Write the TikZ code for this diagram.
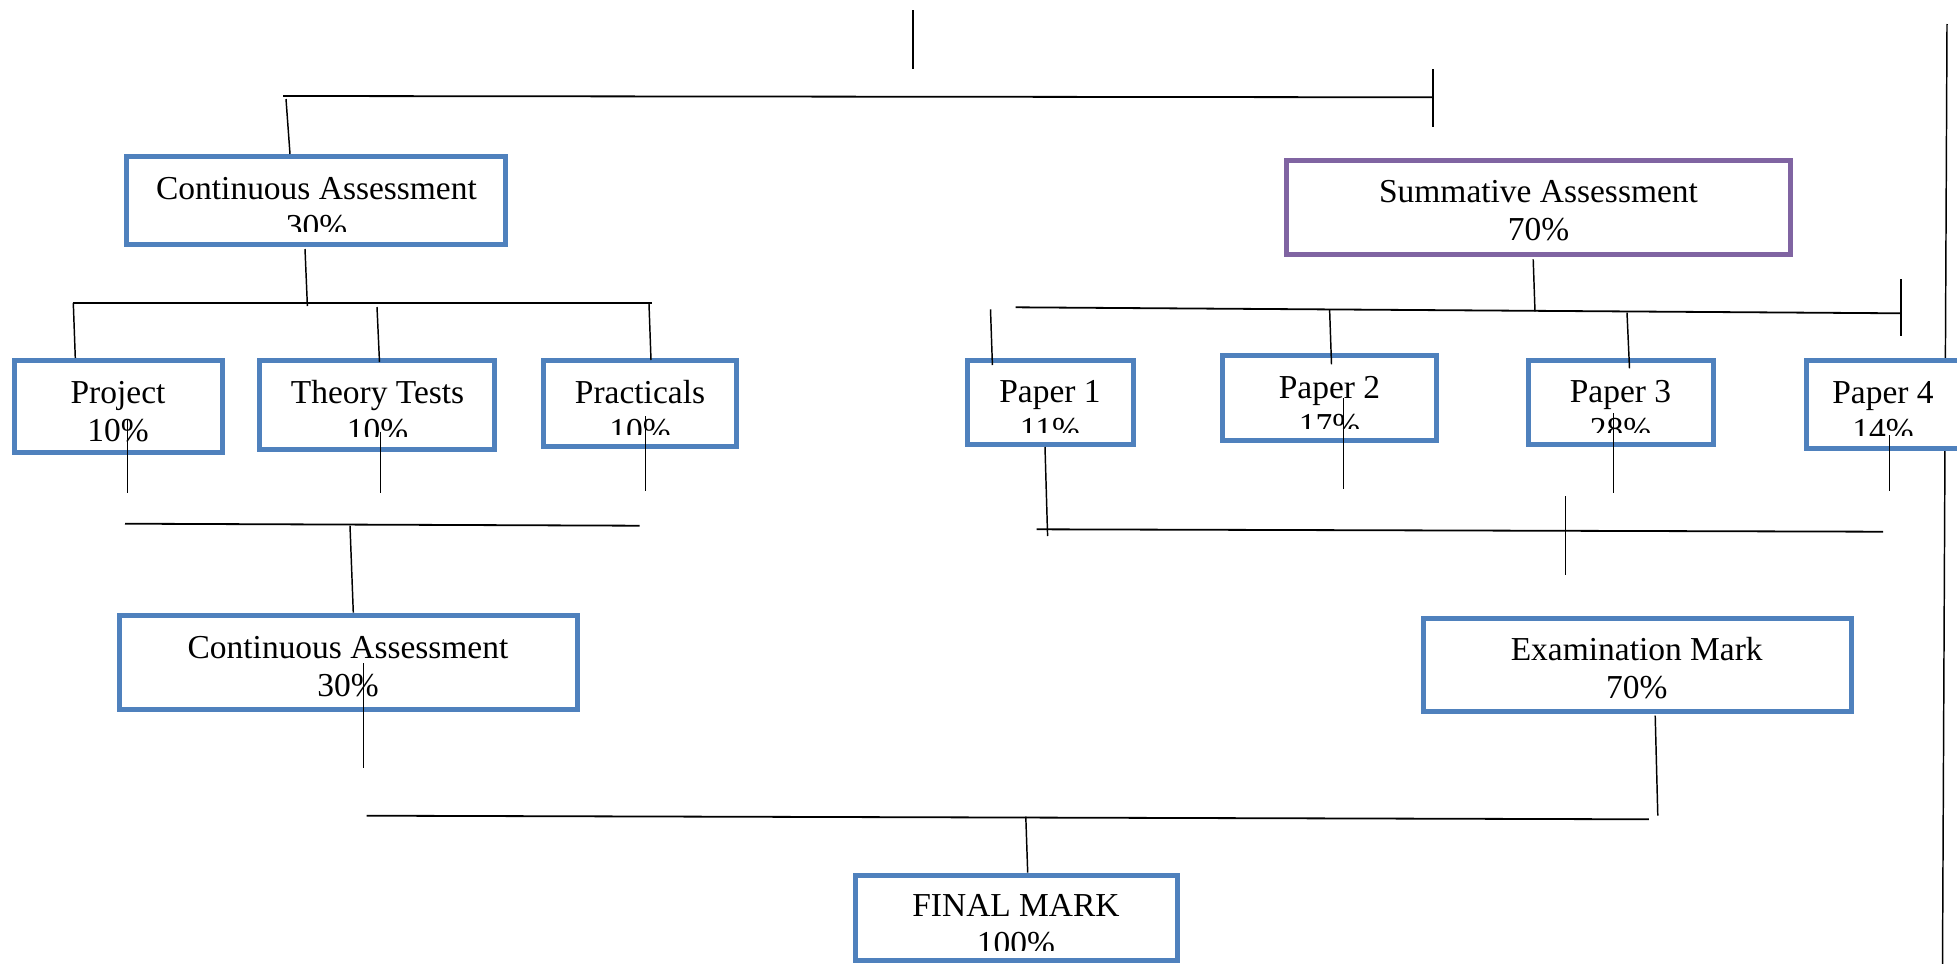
\documentclass[tikz,border=0pt]{standalone}
\usepackage{fontspec}
\setmainfont{Liberation Serif}
\definecolor{boxblue}{RGB}{79,129,189}
\definecolor{boxpurple}{RGB}{128,100,162}
\tikzset{
 obox/.style={rectangle, fill=white, line width=3.75pt, inner sep=0pt, outer sep=0pt},
 lbl/.style={anchor=base, inner sep=0pt, font=\fontsize{25.1pt}{28pt}\selectfont},
 vline/.style={line width=1.1pt, black},
 hline/.style={line width=1.35pt, black},
}
% name, x1, y1, x2, y2, colour (outer edges, in px)
\newcommand{\obx}[6]{\node[obox,draw=#6,minimum width={(#4-#2-5)*0.75pt},minimum height={(#5-#3-5)*0.75pt}] (#1) at ({(#2+#4)/2},{(#3+#5)/2}) {};}
% name, centre x, first baseline, line 1, line 2, clip y
\newcommand{\lbls}[6]{\begin{scope}\clip (0,0) rectangle (1957,#6);
\node[lbl] (#1a) at (#2,#3) {#4};
\node[lbl] (#1b) at (#2,{#3+38}) {#5};\end{scope}}
\begin{document}
\begin{tikzpicture}[x=0.75pt,y=-0.75pt]
\useasboundingbox (0,0) rectangle (1957,964);
\fill[white] (0,0) rectangle (1957,964);
% long right line (behind the boxes)
\draw[vline] (1947,24) -- (1942.5,964);
% boxes
\obx{ca1}{124}{154}{508}{247}{boxblue}
\obx{sa}{1284}{158}{1793}{257}{boxpurple}
\obx{proj}{11.5}{358}{224.5}{455}{boxblue}
\obx{theo}{257}{358}{497}{452}{boxblue}
\obx{prac}{541}{358}{738.5}{449}{boxblue}
\obx{pa1}{965}{358}{1135.6}{447}{boxblue}
\obx{pa2}{1220}{353}{1439.4}{443}{boxblue}
\obx{pa3}{1525.5}{358}{1715.6}{447}{boxblue}
\obx{pa4}{1804}{358}{1996}{451}{boxblue}
\obx{ca2}{116.7}{613.3}{579.7}{711.7}{boxblue}
\obx{exam}{1421}{616}{1853.7}{714}{boxblue}
\obx{fin}{852.7}{872.5}{1179.5}{963}{boxblue}
% labels
\lbls{ca1t}{316.5}{199.3}{Continuous Assessment}{30\%}{231.7}
\lbls{sat}{1538.5}{202.7}{Summative Assessment}{70\%}{964}
\lbls{projt}{118}{403.3}{Project}{10\%}{964}
\lbls{theot}{377.5}{403}{Theory Tests}{10\%}{436}
\lbls{pract}{640}{403}{Practicals}{10\%}{434}
\lbls{pa1t}{1050}{402.7}{Paper 1}{11\%}{432}
\lbls{pa2t}{1329.5}{398.3}{Paper 2}{17\%}{428}
\lbls{pa3t}{1620.5}{402.7}{Paper 3}{28\%}{432}
\lbls{pa4t}{1883}{403.3}{Paper 4}{14\%}{435}
\lbls{ca2t}{348}{658.3}{Continuous Assessment}{30\%}{964}
\lbls{examt}{1636.7}{660}{Examination Mark}{70\%}{964}
\lbls{fint}{1016}{916.7}{FINAL MARK}{100\%}{950}
% top level
\draw[vline] (913,10) -- (913,69);
\draw[hline] (283,96) -- (1433,97.3);
\draw[vline] (1433,69) -- (1433,126.7);
\draw[vline] (286,99) -- (290,154);
% continuous assessment branch
\draw[vline] (305,249) -- (307.4,306);
\draw[hline] (72.7,303.3) -- (652.4,303.3);
\draw[vline] (73.3,303) -- (75.3,358);
\draw[vline] (377,307) -- (379.5,362);
\draw[vline] (649,304) -- (651,360);
% summative branch
\draw[vline] (1533.2,259.3) -- (1535,311.7);
\draw[hline] (1015.5,307.3) -- (1900.5,313.3);
\draw[vline] (1901,279.3) -- (1901,336);
\draw[vline] (990.5,309.3) -- (992.4,365);
\draw[vline] (1329.6,309.3) -- (1331.5,364.3);
\draw[vline] (1627,312.7) -- (1629.5,368.3);
% lower left
\draw[vline] (127.5,420) -- (127.5,493);
\draw[vline] (380.7,431.7) -- (380.7,492.7);
\draw[vline] (645.4,416) -- (645.4,491.3);
\draw[hline] (125,523.7) -- (639.7,525.7);
\draw[vline] (350,525.7) -- (353.3,612.7);
\draw[vline] (363.5,663.3) -- (363.5,768.3);
% lower right
\draw[vline] (1045,447) -- (1047.6,536);
\draw[vline] (1343.7,398.3) -- (1343.7,489.3);
\draw[vline] (1613.5,413.3) -- (1613.5,493.3);
\draw[vline] (1889.6,435) -- (1889.6,491.3);
\draw[hline] (1036.7,529.3) -- (1883.2,531.7);
\draw[vline] (1565.3,496) -- (1565.3,575.3);
% final
\draw[vline] (1655.2,715.7) -- (1657.8,815.7);
\draw[hline] (366.7,815.7) -- (1648.8,819.3);
\draw[vline] (1025.8,816.7) -- (1027.7,872.7);
\end{tikzpicture}
\end{document}
